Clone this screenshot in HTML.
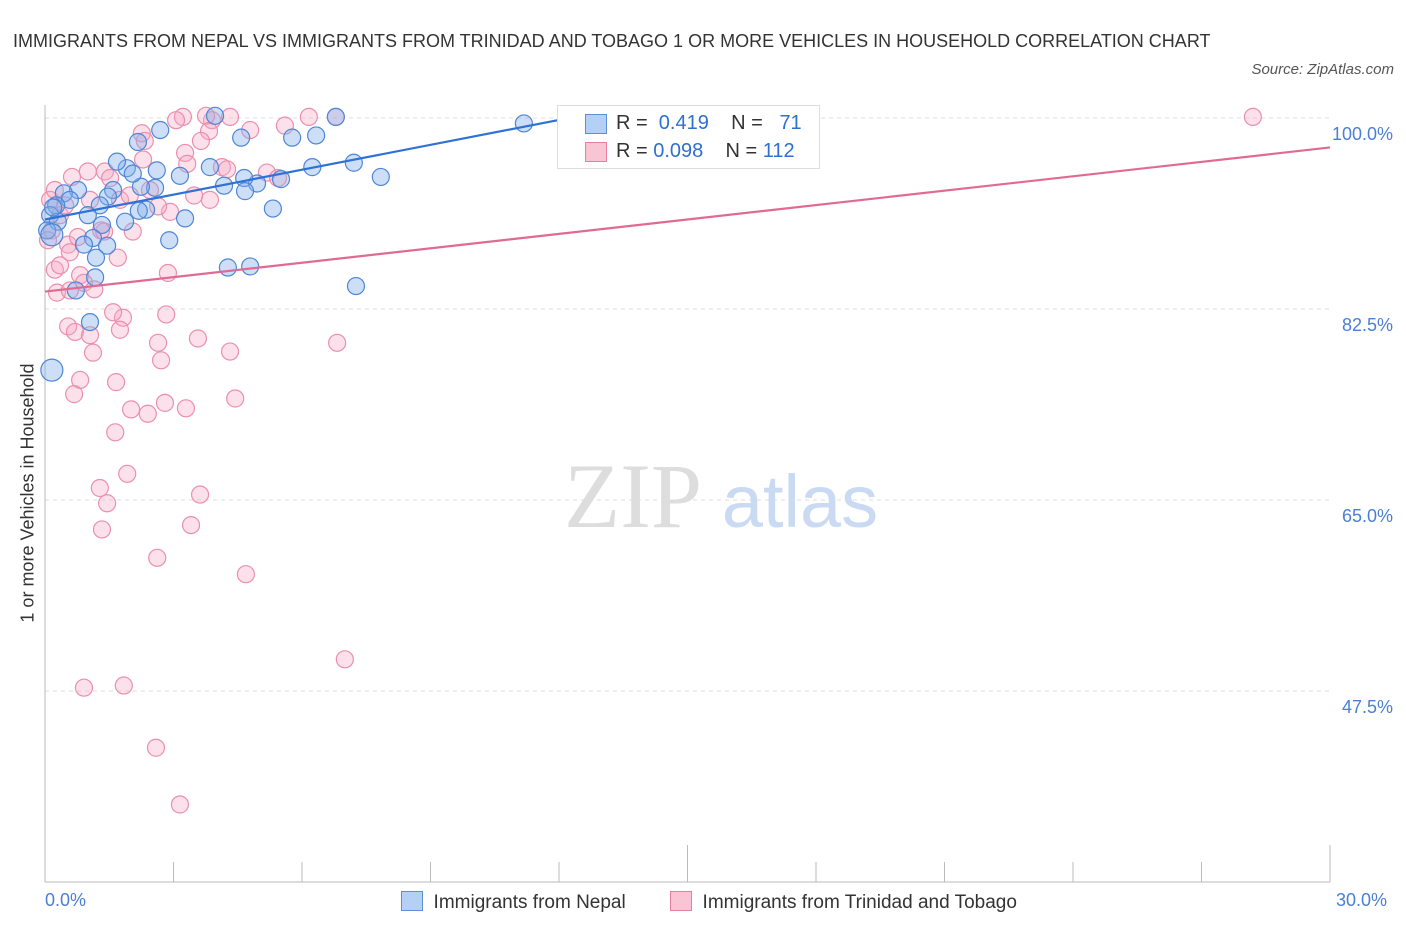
<!DOCTYPE html>
<html><head><meta charset="utf-8">
<style>
body{margin:0;background:#fff;font-family:"Liberation Sans",sans-serif;}
#wrap{position:relative;width:1406px;height:930px;overflow:hidden;}
.t{position:absolute;white-space:nowrap;}
</style></head>
<body>
<div id="wrap">
<div class="t" style="left:13px;top:22px;font-size:18px;color:#333;line-height:38px;width:1200px;white-space:normal">IMMIGRANTS FROM NEPAL VS IMMIGRANTS FROM TRINIDAD AND TOBAGO 1 OR MORE VEHICLES IN HOUSEHOLD CORRELATION CHART</div>
<div class="t" style="right:12px;top:61px;font-size:15px;font-style:italic;color:#555">Source: ZipAtlas.com</div>
<svg id="svg" width="1406" height="930" style="position:absolute;left:0;top:0"></svg>
</div>
<script>
const blueX=[0.16,2.69,3.97,4.58,5.77,6.33,6.79,11.18,7.21,7.84,6.24,5.51,4.95,4.65,4.67,4.18,3.85,5.32,3.27,2.90,4.27,4.79,7.26,3.15,2.61,2.57,2.24,1.91,1.68,2.05,1.59,1.47,2.36,2.19,1.28,1.0,0.77,0.44,0.58,0.26,0.12,0.30,1.33,1.87,1.12,0.91,1.45,1.19,1.17,0.72,1.05,0.05,0.16,2.17,0.19];
const blueY=[76.9,98.9,100.2,98.2,98.2,98.4,100.1,99.5,95.9,94.6,95.5,94.4,94.0,94.5,93.3,93.8,95.5,91.7,90.8,88.8,86.3,86.4,84.6,94.7,95.2,93.6,93.7,95.4,96.0,94.9,93.4,92.8,91.6,91.5,92.0,91.1,93.4,93.1,92.5,92.0,91.1,90.5,90.2,90.5,89.0,88.4,88.3,87.2,85.4,84.2,81.3,89.7,89.3,97.8,91.8];
const pinkX=[28.2,6.79,6.16,5.60,4.79,4.32,3.90,3.76,3.22,3.06,2.26,2.33,3.83,3.64,3.27,3.32,2.29,4.13,4.25,5.18,5.44,3.85,3.48,2.92,2.64,2.05,1.70,1.38,1.0,0.63,1.40,1.52,1.75,1.05,0.35,0.16,0.07,0.54,0.77,0.23,0.35,0.58,0.82,0.91,1.15,0.28,0.58,2.87,2.83,1.82,1.59,1.75,0.54,0.70,1.05,1.12,2.64,2.71,3.57,4.32,6.82,0.82,0.68,1.66,2.01,2.40,2.80,3.29,4.44,1.64,1.92,1.28,1.45,3.62,1.33,3.41,2.62,4.69,7.0,0.91,1.84,2.59,3.15,0.12,0.23,0.47,1.98,2.45,1.31];
const pinkY=[100.1,100.1,100.1,99.3,98.9,100.1,99.8,100.2,100.1,99.8,98.6,97.9,98.8,97.9,96.8,95.8,96.2,95.5,95.3,95.0,94.5,92.5,92.9,91.4,91.9,89.6,87.2,89.6,95.1,94.6,95.1,94.5,92.5,92.5,91.1,89.7,88.8,88.4,89.1,86.1,86.5,87.7,85.6,84.9,84.3,84.0,84.2,85.8,82.0,81.7,82.2,80.6,80.9,80.4,80.1,78.5,79.4,77.8,79.8,78.6,79.4,76.0,74.7,75.8,73.3,72.9,73.9,73.4,74.3,71.2,67.4,66.1,64.7,65.5,62.3,62.7,59.7,58.2,50.4,47.8,48.0,42.3,37.1,92.5,93.4,92.0,92.9,93.4,89.7];
const blueTrendX=[0,12.5];const blueTrendY=[90.7,100.2];
const pinkTrendX=[0,30];const pinkTrendY=[84.1,97.3];
const yTicks=[100,82.5,65,47.5];
const yTickLabels=["100.0%","82.5%","65.0%","47.5%"];
const X=v=>45+v/30*1285;
const Y=v=>118+(100-v)*10.914;
const svg=document.getElementById('svg');
const NS='http://www.w3.org/2000/svg';
function mk(t,a){const e=document.createElementNS(NS,t);for(const k in a)e.setAttribute(k,a[k]);svg.appendChild(e);return e;}
yTicks.forEach((v,i)=>{
 const g=mk('line',{x1:45,x2:1330,y1:Y(v),y2:Y(v),stroke:'#ddd','stroke-dasharray':'4,4'});
 
 
 const t=mk('text',{x:1393,y:Y(v)+22,'text-anchor':'end','font-size':18,fill:'#4a7fd6','font-family':'Liberation Sans'});
 t.textContent=yTickLabels[i];
 
 
});
let ax=mk('line',{x1:45,x2:45,y1:105,y2:882,stroke:'#bbb'});

ax=mk('line',{x1:45,x2:1330,y1:882,y2:882,stroke:'#bbb'});

for(let i=0;i<=10;i++){
 const tk=mk('line',{x1:X(i*3),x2:X(i*3),y1:(i==5||i==10||i==0)?845:862,y2:882,stroke:'#bbb'});
 
 
}
const wm=mk('text',{x:633,y:527,'text-anchor':'middle','font-size':92,fill:'#ddd','font-family':'Liberation Serif'});
wm.textContent='ZIP';
const wm2=mk('text',{x:800,y:527,'text-anchor':'middle','font-size':74,fill:'#c9daf2','font-family':'Liberation Sans'});
wm2.textContent='atlas';
pinkX.forEach((x,i)=>{
 const c=mk('circle',{cx:X(x),cy:Y(pinkY[i]),r:8.5,fill:'rgba(245,170,195,0.35)',stroke:'#ec8fae','stroke-width':1.2});
 
 
});
blueX.forEach((x,i)=>{
 const big=(i==0||i==52);
 const c=mk('circle',{cx:X(x),cy:Y(blueY[i]),r:big?11:8.5,fill:'rgba(130,175,235,0.4)',stroke:'#4f86d8','stroke-width':1.2});
 
 
});
let tl=mk('line',{x1:X(pinkTrendX[0]),y1:Y(pinkTrendY[0]),x2:X(pinkTrendX[1]),y2:Y(pinkTrendY[1]),stroke:'#e06a94','stroke-width':2.2});

tl=mk('line',{x1:X(blueTrendX[0]),y1:Y(blueTrendY[0]),x2:X(blueTrendX[1]),y2:Y(blueTrendY[1]),stroke:'#2f72d6','stroke-width':2.2});

</script>
<div class="t" style="left:45px;top:890px;font-size:18px;color:#4a7fd6">0.0%</div>
<div class="t" style="left:1336px;top:890px;font-size:18px;color:#4a7fd6">30.0%</div>
<div class="t" style="left:28px;top:493px;font-size:18px;color:#333;transform:translate(-50%,-50%) rotate(-90deg)">1 or more Vehicles in Household</div>
<div style="position:absolute;left:557px;top:105px;width:261px;height:62px;background:#fff;border:1px solid #ddd;font-size:20px;color:#333">
 <div style="position:absolute;left:27px;top:8px;width:20px;height:18px;background:#b5d0f5;border:1px solid #5b8fd6"></div>
 <div class="t" style="left:58px;top:6px">R = <span style="color:#2f6fd0">&nbsp;0.419</span>&nbsp;&nbsp;&nbsp; N = &nbsp;&nbsp;<span style="color:#2f6fd0">71</span></div>
 <div style="position:absolute;left:27px;top:36px;width:20px;height:18px;background:#f9c5d5;border:1px solid #e77fa0"></div>
 <div class="t" style="left:58px;top:34px">R = <span style="color:#2f6fd0">0.098</span>&nbsp;&nbsp;&nbsp; N = <span style="color:#2f6fd0">112</span></div>
</div>
<div style="position:absolute;left:401px;top:891px;font-size:19px;color:#333">
 <span style="display:inline-block;width:20px;height:18px;background:#b5d0f5;border:1px solid #5b8fd6;vertical-align:-3px"></span>&nbsp; Immigrants from Nepal</div>
<div style="position:absolute;left:670px;top:891px;font-size:19px;color:#333">
 <span style="display:inline-block;width:20px;height:18px;background:#f9c5d5;border:1px solid #e77fa0;vertical-align:-3px"></span>&nbsp; Immigrants from Trinidad and Tobago</div>
</body></html>
